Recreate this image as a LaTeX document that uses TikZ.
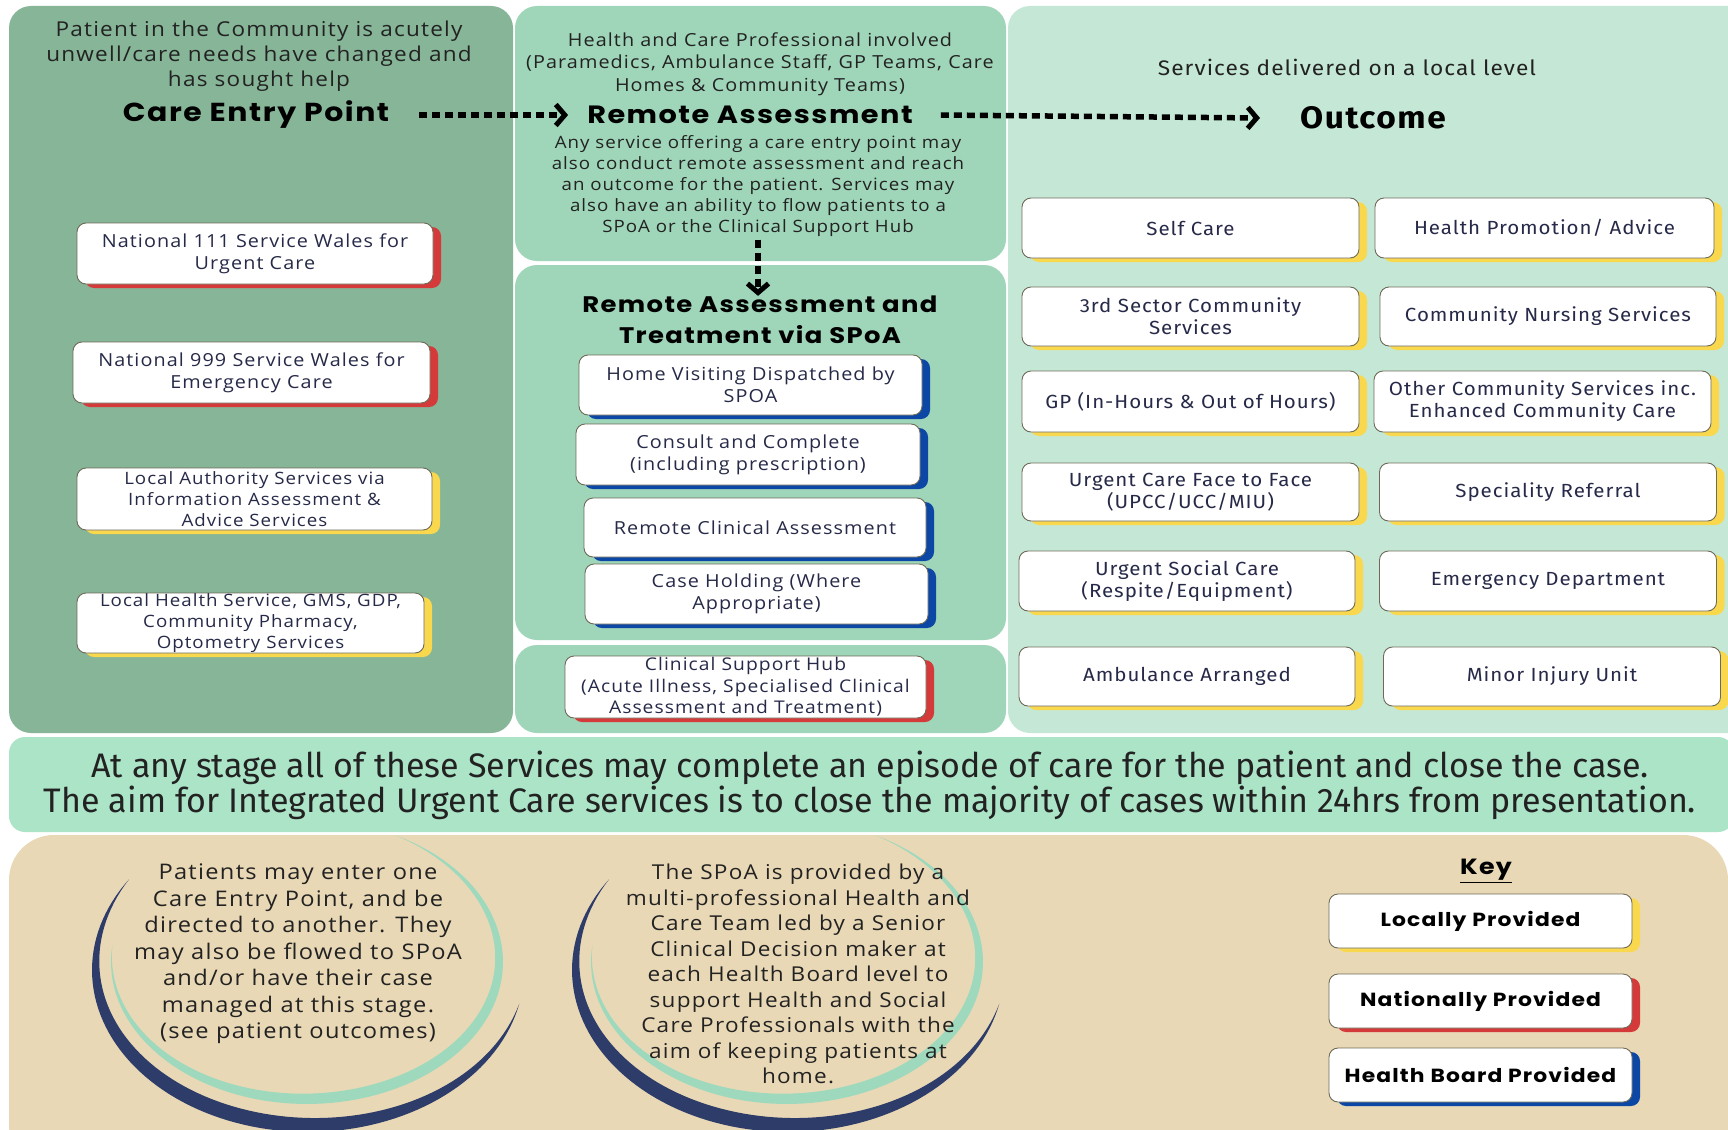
\documentclass[tikz,border=0pt]{standalone}
\usepackage{fontspec}
\setmainfont{Open Sans}[FakeStretch=1.1, LetterSpace=6]
\newfontfamily\headfont{Poppins}[FakeStretch=1.15, LetterSpace=6]
\newfontfamily\firafont{Fira Sans}[FakeStretch=1.08, LetterSpace=5]
\newfontfamily\bandfont{Fira Sans}
\usetikzlibrary{arrows.meta,shadows}
\definecolor{leftg}{HTML}{86B598}
\definecolor{midg}{HTML}{9FD5B8}
\definecolor{rightg}{HTML}{C5E8D6}
\definecolor{bandg}{HTML}{ACE4C7}
\definecolor{beige}{HTML}{E9D8B5}
\definecolor{navy}{HTML}{2D3C69}
\definecolor{mint}{HTML}{9ED8BD}
\definecolor{shred}{HTML}{D43A3A}
\definecolor{shyel}{HTML}{F9D84E}
\definecolor{shblue}{HTML}{0C47A6}
\definecolor{boxline}{HTML}{6E6A58}
\definecolor{boxtext}{HTML}{262A48}
\definecolor{ink}{HTML}{222222}
\newcommand\crescent[8]{%
  \fill[#1] plot[domain=#6:#7, samples=90, variable=\t] ({#2+#4*cos(\t)},{#3+#5*sin(\t)})
   -- plot[domain=#7:#6, samples=90, variable=\t]
   ({#2+(#4-#8*sin((\t-(#6))/((#7)-(#6))*180))*cos(\t)},{#3+(#5-#8*sin((\t-(#6))/((#7)-(#6))*180))*sin(\t)}) -- cycle;}
\tikzset{
  hdr/.style={align=center, text=ink, inner sep=0pt},
  title/.style={inner sep=0pt, text=black, align=center, font=\headfont\bfseries\fontsize{25}{30}\selectfont},
  sbox/.style={draw=boxline, line width=0.9pt, fill=white, rounded corners=9pt, inner sep=0pt, align=center, text=boxtext, font=\fontsize{18}{22}\selectfont},
  obox/.style={sbox, font=\firafont\fontsize{19}{22}\selectfont},
  natl/.style={general shadow={fill=shred, shadow xshift=8pt, shadow yshift=-4pt}},
  locl/.style={general shadow={fill=shyel, shadow xshift=8pt, shadow yshift=-4pt}},
  hbrd/.style={general shadow={fill=shblue, shadow xshift=8pt, shadow yshift=-4pt}},
  sz/.style n args={2}{minimum width=#1pt, minimum height=#2pt},
  dotarrow/.style={black, line width=5.5pt, dash pattern=on 8pt off 5pt, -{Straight Barb[length=9pt, width=21pt, line width=5pt]}},
  circtext/.style={align=center, text=ink, inner sep=0pt}
}
\begin{document}
\begin{tikzpicture}[x=1pt,y=-1pt]
\useasboundingbox (0,0) rectangle (1728,1129);
\clip (0,0) rectangle (1728,1129);
\fill[white] (0,0) rectangle (1728,1129);
% panels
\fill[leftg, rounded corners=22pt] (9,6) rectangle (513,733);
\fill[midg, rounded corners=22pt] (515,6) rectangle (1006,261);
\fill[midg, rounded corners=22pt] (515,265) rectangle (1006,640);
\fill[midg, rounded corners=22pt] (515,645) rectangle (1006,733);
\fill[rightg, rounded corners=22pt] (1008,6) rectangle (1760,733);
\fill[bandg, rounded corners=16pt] (9,737) rectangle (1734,832);
\fill[beige, rounded corners=45pt] (9,1170) |- (1728,835) -- (1728,1170) -- cycle;
% crescents
\crescent{navy}{308}{970}{216}{162}{12}{214}{15}
\crescent{mint}{307}{962}{196}{142}{-63}{187}{11}
\crescent{navy}{788}{970}{216}{162}{12}{214}{15}
\crescent{mint}{787}{962}{196}{142}{-63}{187}{11}
% headers
\node[hdr, font=\fontsize{20.5}{25}\selectfont] (lhdr) at (259,56) {Patient in the Community is acutely\\unwell/care needs have changed and\\has sought help};
\node[title, font=\headfont\bfseries\fontsize{26}{30}\selectfont] (cep) at (256,115) {Care Entry Point};
\node[title] (ra) at (750,115) {Remote Assessment};
\node[inner sep=0pt, text=black, font=\firafont\bfseries\fontsize{31}{34}\selectfont] (outc) at (1373,118) {Outcome};
\node[hdr, font=\fontsize{18}{22.5}\selectfont] (mhdr) at (760,64) {Health and Care Professional involved\\(Paramedics, Ambulance Staff, GP Teams, Care\\Homes \& Community Teams)};
\node[hdr, font=\fontsize{17}{21}\selectfont] (para) at (758,186) {Any service offering a care entry point may\\also conduct remote assessment and reach\\an outcome for the patient. Services may\\also have an ability to flow patients to a\\SPoA or the Clinical Support Hub};
\node[title, font=\headfont\bfseries\fontsize{22.5}{31}\selectfont] (ras) at (760,320) {Remote Assessment and\\Treatment via SPoA};
\node[hdr, font=\firafont\fontsize{21}{26}\selectfont] (sdl) at (1347,67) {Services delivered on a local level};
% arrows
\draw[dotarrow] ([xshift=30pt]cep.east) -- ([xshift=-19pt]ra.west);
\draw[dotarrow] ([xshift=28pt]ra.east) -- ([xshift=-40pt]outc.west);
\draw[dotarrow] ([yshift=-3pt]para.south) -- (para.south |- ras.north);
% care entry boxes
\node[sbox, natl, sz={356}{61}] (n111) at (255,253.5) {National 111 Service Wales for\\Urgent Care};
\node[sbox, natl, sz={357}{61}] (n999) at (251.5,372.5) {National 999 Service Wales for\\Emergency Care};
\node[sbox, locl, sz={355}{62}, font=\fontsize{17}{21}\selectfont] (la) at (254.5,499) {Local Authority Services via\\Information Assessment \&\\Advice Services};
\node[sbox, locl, sz={347}{60}, font=\fontsize{17}{21}\selectfont] (lh) at (250.5,623) {Local Health Service, GMS, GDP,\\Community Pharmacy,\\Optometry Services};
% SPoA boxes
\node[sbox, hbrd, sz={343}{60}] (hv) at (750.5,385) {Home Visiting Dispatched by\\SPOA};
\node[sbox, hbrd, sz={344}{61}] (cc) at (748,454.5) {Consult and Complete\\(including prescription)};
\node[sbox, hbrd, sz={342}{59}] (rca) at (755,527.5) {Remote Clinical Assessment};
\node[sbox, hbrd, sz={343}{60}] (ch) at (756.5,594) {Case Holding (Where\\Appropriate)};
\node[sbox, natl, sz={361}{62}, font=\fontsize{17.5}{21.5}\selectfont] (csh) at (745.5,687) {Clinical Support Hub\\(Acute Illness, Specialised Clinical\\Assessment and Treatment)};
% outcome boxes
\node[obox, locl, sz={337}{60}] (o1) at (1190.5,228) {Self Care};
\node[obox, locl, sz={339}{60}] (o2) at (1544.5,228) {Health Promotion/ Advice};
\node[obox, locl, sz={337}{59}] (o3) at (1190.5,316.5) {3rd Sector Community\\Services};
\node[obox, locl, sz={336}{59}] (o4) at (1548,316.5) {Community Nursing Services};
\node[obox, locl, sz={337}{61}] (o5) at (1190.5,401.5) {GP (In-Hours \& Out of Hours)};
\node[obox, locl, sz={337}{61}] (o6) at (1542.5,401.5) {Other Community Services inc.\\Enhanced Community Care};
\node[obox, locl, sz={337}{58}] (o7) at (1190.5,492) {Urgent Care Face to Face\\(UPCC/UCC/MIU)};
\node[obox, locl, sz={337}{58}] (o8) at (1548,492) {Speciality Referral};
\node[obox, locl, sz={336}{60}] (o9) at (1187,581) {Urgent Social Care\\(Respite/Equipment)};
\node[obox, locl, sz={337}{60}] (o10) at (1548,581) {Emergency Department};
\node[obox, locl, sz={336}{59}] (o11) at (1187,676.5) {Ambulance Arranged};
\node[obox, locl, sz={337}{59}] (o12) at (1552,676.5) {Minor Injury Unit};
% band
\node[hdr, font=\bandfont\fontsize{34}{35}\selectfont] (band) at (870,785) {At any stage all of these Services may complete an episode of care for the patient and close the case.\\The aim for Integrated Urgent Care services is to close the majority of cases within 24hrs from presentation.};
% circle texts
\node[circtext, font=\fontsize{21.5}{26.5}\selectfont] (c1) at (298,954) {Patients may enter one\\Care Entry Point, and be\\directed to another. They\\may also be flowed to SPoA\\and/or have their case\\managed at this stage.\\(see patient outcomes)};
\node[circtext, font=\fontsize{20.5}{25.5}\selectfont] (c2) at (798,974) {The SPoA is provided by a\\multi-professional Health and\\Care Team led by a Senior\\Clinical Decision maker at\\each Health Board level to\\support Health and Social\\Care Professionals with the\\aim of keeping patients at\\home.};
% key
\node[inner sep=0pt, text=black, font=\headfont\bfseries\fontsize{22}{26}\selectfont] (key) at (1486,871) {\underline{Key}};
\node[sbox, locl, sz={303}{54}, text=black, font=\headfont\bfseries\fontsize{19}{24}\selectfont] (k1) at (1480.5,921) {Locally Provided};
\node[sbox, natl, sz={303}{54}, text=black, font=\headfont\bfseries\fontsize{19}{24}\selectfont] (k2) at (1480.5,1001) {Nationally Provided};
\node[sbox, hbrd, sz={303}{54}, text=black, font=\headfont\bfseries\fontsize{19}{24}\selectfont] (k3) at (1480.5,1075) {Health Board Provided};
\end{tikzpicture}
\end{document}
